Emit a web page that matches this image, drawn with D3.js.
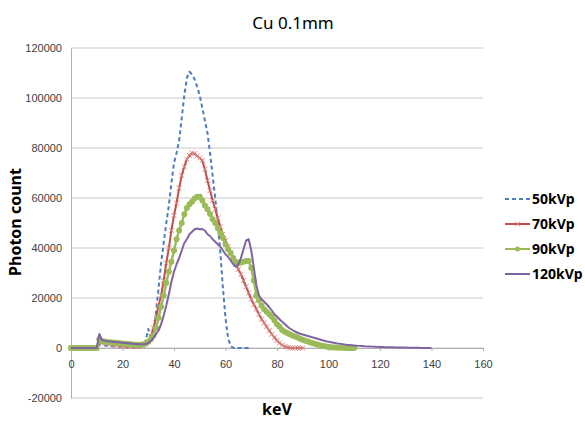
<!DOCTYPE html>
<html>
<head>
<meta charset="utf-8">
<script src="https://cdn.jsdelivr.net/npm/d3@7"></script>
<style>
  body { margin: 0; background: #fff; }
  svg { font-family: "Noto Sans", "DejaVu Sans", sans-serif; }
</style>
</head>
<body>
<svg id="chart" width="585" height="421"></svg>
<script>
// photon counts per keV, starting at 0 keV, 1 keV step
var kv50 = [0,0,0,0,0,0,0,0,0,0,0,
  1500,1200,1000,900,800,700,600,500,450,400,350,300,300,250,250,300,400,800,3000,
  7600,4000,6000,14000,24000,34000,42000,50000,57000,66000,
  74000,78000,83000,92000,101000,108000,110500,109500,107500,104500,
  101000,96000,91000,86000,78000,69000,60000,50000,38000,24000,
  12000,4000,800,100,0,0,0,0,0,0,0];

var kv70 = [0,0,0,0,0,0,0,0,0,0,0,
  3000,2200,2000,1800,1600,1500,1300,1200,1100,1000,900,800,700,600,600,600,700,900,1500,
  2500,4500,8000,12000,17000,21000,27000,34000,40000,47000,
  53000,58000,64000,69000,72500,75500,77000,78000,77700,76800,
  76000,75000,71500,67000,63000,59000,55500,52000,48500,45500,
  43000,40500,38000,35500,33500,31500,29500,27000,24500,22000,
  19500,17500,15500,13500,11500,10000,8500,7000,5500,4200,
  3000,2000,1200,600,300,100,0,0,0,0,0];

var kv90 = [0,0,0,0,0,0,0,0,0,0,0,
  3500,2800,2600,2400,2300,2200,2100,2000,1900,1800,1700,1600,1500,1400,1300,1300,1300,1400,1800,
  2500,3500,5000,8000,12000,16500,21000,26000,30500,34500,
  39000,43500,47000,50000,53500,56000,57500,58500,59800,60500,
  60500,59000,57000,55500,53600,51500,50000,48000,46000,44000,
  41500,39500,38000,36000,34500,34000,34200,34500,34800,34800,
  32000,27000,21000,19000,17000,15500,14500,13500,12500,11000,
  9500,8500,7200,6500,6000,5500,5000,4600,4200,3700,
  3300,2900,2600,2200,1900,1600,1300,1000,800,600,
  450,350,250,200,150,100,100,50,50,0,0];

var kv120 = [0,0,0,0,0,0,0,0,0,0,0,
  5600,3200,2900,2700,2600,2500,2400,2300,2200,2100,2000,1900,1800,1700,1600,1500,1500,1500,1600,
  2000,2800,4000,5500,7000,9500,13000,17000,21500,26500,
  30500,33500,36000,39000,42000,43500,45500,46500,47500,47800,
  47500,47600,47000,45500,44800,43500,42500,41500,40500,39000,
  37500,36500,35000,33500,32500,33500,36000,39500,43000,43500,
  39000,32000,25000,21000,19500,18500,17500,16300,15000,13500,
  12500,11500,10500,9600,8600,7800,7200,6600,6100,5700,
  5400,5100,4800,4500,4200,3900,3600,3300,3000,2700,
  2500,2300,2100,1900,1750,1600,1450,1300,1200,1100,
  1000,900,850,800,700,650,600,550,500,450,
  400,380,350,320,300,280,250,230,200,180,
  160,140,120,100,80,60,40,30,20,10,0];

var seriesNames = ["50kVp", "70kVp", "90kVp", "120kVp"];
var seriesColors = ["#4a7ebb", "#c0504d", "#9bbb59", "#8064a2"];
var xTicks = [0, 20, 40, 60, 80, 100, 120, 140, 160];
var yTicks = [-20000, 0, 20000, 40000, 60000, 80000, 100000, 120000];

var svg = d3.select("#chart");
var x = d3.scaleLinear().domain([0, 160]).range([71, 483]);
var y = d3.scaleLinear().domain([-20000, 120000]).range([398, 48]);

// gridlines
svg.append("g").selectAll("line").data(yTicks).enter().append("line")
  .attr("x1", x(0)).attr("x2", x(160))
  .attr("y1", function(d) { return y(d); }).attr("y2", function(d) { return y(d); })
  .attr("stroke", "#c8c8c8").attr("stroke-width", 1);

// y axis
var yAxis = svg.append("g").attr("transform", "translate(" + x(0) + ",0)")
  .call(d3.axisLeft(y).tickValues(yTicks).tickSize(0).tickPadding(9)
    .tickFormat(function(d) { return String(d); }));
yAxis.select(".domain").attr("stroke", "#b0b0b0");
yAxis.selectAll("text").attr("fill", "#404040").style("font-size", "11px");

// x axis at zero
var xAxis = svg.append("g").attr("transform", "translate(0," + y(0) + ")")
  .call(d3.axisBottom(x).tickValues(xTicks).tickSizeInner(3).tickSizeOuter(0).tickPadding(9));
xAxis.select(".domain").attr("stroke", "#b0b0b0");
xAxis.selectAll(".tick line").attr("stroke", "#b0b0b0");
xAxis.selectAll("text").attr("fill", "#404040").style("font-size", "11px");

var allData = [kv50, kv70, kv90, kv120];
var line = d3.line()
  .x(function(d, i) { return x(i); })
  .y(function(d) { return y(d); });

var plot = svg.append("g");
allData.forEach(function(vals, s) {
  var p = plot.append("path").datum(vals)
    .attr("d", line).attr("fill", "none")
    .attr("stroke", seriesColors[s])
    .attr("stroke-width", s == 2 ? 2.5 : 2)
    .attr("stroke-linejoin", "round");
  if (s == 0) p.attr("stroke-dasharray", "4,3");
  if (s == 1) {
    plot.append("g").selectAll("path").data(vals).enter().append("path")
      .attr("transform", function(d, i) { return "translate(" + x(i) + "," + y(d) + ")"; })
      .attr("d", "M-2.5,-2.5L2.5,2.5M-2.5,2.5L2.5,-2.5")
      .attr("stroke", "#d9837f").attr("stroke-width", 1);
  }
  if (s == 2) {
    plot.append("g").selectAll("circle").data(vals).enter().append("circle")
      .attr("cx", function(d, i) { return x(i); })
      .attr("cy", function(d) { return y(d); })
      .attr("r", 3).attr("fill", seriesColors[2]);
  }
});

// titles
svg.append("text").attr("x", 293).attr("y", 29).attr("text-anchor", "middle")
  .style("font-size", "17px").attr("fill", "#000").text("Cu 0.1mm");
svg.append("text").attr("transform", "translate(21,222) rotate(-90)")
  .attr("text-anchor", "middle").style("font-size", "16px").style("font-weight", "bold")
  .text("Photon count");
svg.append("text").attr("x", 277).attr("y", 415).attr("text-anchor", "middle")
  .style("font-size", "16px").style("font-weight", "bold").text("keV");

// legend
var legendY = [199, 224, 249, 274];
var leg = svg.append("g").selectAll("g").data(seriesNames).enter().append("g")
  .attr("transform", function(d, i) { return "translate(505," + legendY[i] + ")"; });
leg.append("line").attr("x1", 0).attr("x2", 25).attr("y1", 0).attr("y2", 0)
  .attr("stroke", function(d, i) { return seriesColors[i]; })
  .attr("stroke-width", 2)
  .attr("stroke-dasharray", function(d, i) { return i == 0 ? "4,3" : null; });
leg.filter(function(d, i) { return i == 1; }).append("path")
  .attr("d", "M10,-2.5L15,2.5M10,2.5L15,-2.5").attr("stroke", "#d9837f").attr("stroke-width", 1);
leg.filter(function(d, i) { return i == 2; }).append("circle")
  .attr("cx", 12.5).attr("cy", 0).attr("r", 2.5).attr("fill", seriesColors[2]);
leg.append("text").attr("x", 27).attr("y", 5)
  .style("font-size", "14px").style("font-weight", "bold").text(function(d) { return d; });
</script>
</body>
</html>
